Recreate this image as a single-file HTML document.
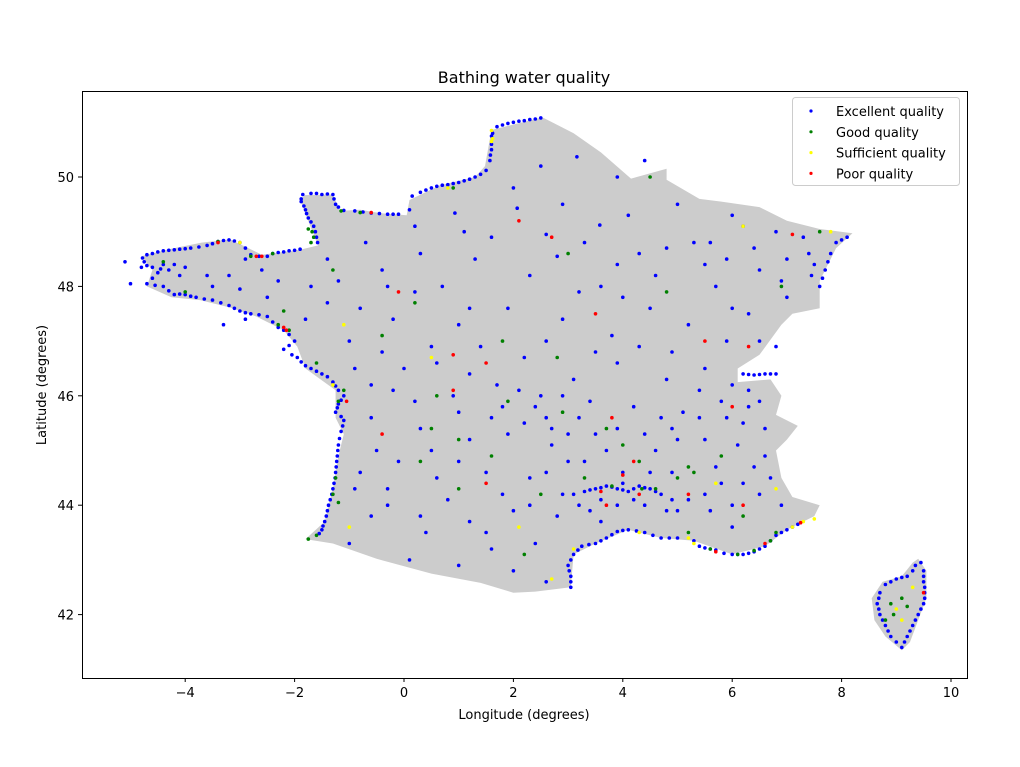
<!DOCTYPE html>
<html><head><meta charset="utf-8">
<style>
body{margin:0;background:#fff;}
svg text{font-family:"DejaVu Sans","Liberation Sans",sans-serif;fill:#000;}
</style></head>
<body>
<svg id="chart" width="1020" height="762" xmlns="http://www.w3.org/2000/svg">
<rect width="1020" height="762" fill="#fff"/>
<text x="524" y="83" font-size="16" text-anchor="middle">Bathing water quality</text>
<g id="plot"></g>
<rect x="82.5" y="91.5" width="885" height="587" fill="none" stroke="#000" stroke-width="1"/>
<g id="axes"></g>
<text x="524" y="719" font-size="13" text-anchor="middle">Longitude (degrees)</text>
<text x="46" y="385" font-size="13" text-anchor="middle" transform="rotate(-90 46 385)">Latitude (degrees)</text>
<g id="legend"></g>
</svg>
<script>
const xTicks=[-4,-2,0,2,4,6,8,10];
const yTicks=[42,44,46,48,50];
const categories=["Excellent quality","Good quality","Sufficient quality","Poor quality"];
const colors=["#0000ff","#008000","#ffff00","#ff0000"];
const mainland=[[2.49,51.08],[1.6,50.86],[1.48,50.2],[1.3,50.0],[0.66,49.85],[0.1,49.58],[0.05,49.3],[-0.44,49.34],[-0.8,49.4],[-1.17,49.38],[-1.3,49.68],[-1.81,49.67],[-1.9,49.58],[-1.72,49.12],[-1.57,48.75],[-1.9,48.67],[-2.6,48.58],[-3.18,48.86],[-3.7,48.8],[-4.3,48.68],[-4.8,48.55],[-4.6,48.3],[-4.7,48.0],[-4.25,47.8],[-3.73,47.75],[-3.2,47.62],[-2.7,47.45],[-2.2,47.2],[-1.95,46.9],[-1.8,46.5],[-1.25,46.1],[-1.25,45.6],[-1.1,45.3],[-1.2,44.9],[-1.3,44.3],[-1.45,43.7],[-1.8,43.38],[-1.3,43.3],[-0.5,43.02],[0.5,42.75],[1.4,42.58],[2.0,42.4],[2.4,42.42],[3.05,42.5],[3.1,43.1],[3.5,43.3],[4.1,43.55],[4.7,43.4],[5.3,43.35],[6.0,43.1],[6.6,43.25],[7.0,43.55],[7.5,43.8],[7.6,44.0],[7.1,44.15],[6.9,44.5],[6.8,45.0],[7.0,45.2],[7.2,45.45],[6.8,45.65],[6.9,46.0],[6.7,46.3],[6.1,46.25],[6.1,46.5],[6.5,46.75],[6.9,47.3],[7.1,47.5],[7.6,47.6],[7.6,48.1],[7.9,48.7],[8.2,48.97],[7.6,49.05],[7.0,49.2],[6.5,49.45],[5.8,49.55],[5.4,49.6],[4.8,49.95],[4.8,50.15],[4.15,49.97],[3.6,50.45],[3.1,50.8],[2.55,51.08]];
const corsica=[[9.4,43.02],[9.55,42.8],[9.55,42.3],[9.4,41.9],[9.25,41.5],[9.1,41.35],[8.8,41.6],[8.6,41.9],[8.55,42.3],[8.75,42.6],[9.1,42.7],[9.3,42.95]];
const excellent=[[2.5,51.08],[2.4,51.06],[2.3,51.05],[2.2,51.03],[2.1,51.02],[2.0,51.0],[1.9,50.98],[1.8,50.95],[1.7,50.92],[1.62,50.8],[1.6,50.75],[1.6,50.6],[1.6,50.5],[1.58,50.4],[1.57,50.3],[1.5,50.12],[1.4,50.05],[1.3,50.0],[1.2,49.96],[1.1,49.93],[1.0,49.9],[0.9,49.88],[0.8,49.86],[0.7,49.85],[0.6,49.83],[0.5,49.8],[0.4,49.76],[0.3,49.72],[0.15,49.65],[0.1,49.4],[-0.1,49.32],[-0.2,49.32],[-0.3,49.32],[-0.45,49.33],[-0.6,49.34],[-0.75,49.36],[-0.9,49.38],[-1.1,49.39],[-1.2,49.45],[-1.25,49.5],[-1.28,49.6],[-1.3,49.68],[-1.4,49.69],[-1.5,49.68],[-1.6,49.7],[-1.7,49.7],[-1.85,49.68],[-1.88,49.6],[-1.88,49.55],[-1.83,49.47],[-1.8,49.4],[-1.78,49.33],[-1.75,49.25],[-1.7,49.18],[-1.65,49.1],[-1.62,49.0],[-1.6,48.9],[-1.58,48.8],[-1.9,48.68],[-2.0,48.66],[-2.1,48.65],[-2.2,48.63],[-2.3,48.62],[-2.4,48.6],[-2.5,48.55],[-2.65,48.55],[-2.8,48.58],[-2.9,48.7],[-3.0,48.8],[-3.1,48.83],[-3.2,48.85],[-3.3,48.84],[-3.4,48.82],[-3.5,48.78],[-3.6,48.75],[-3.75,48.72],[-3.9,48.7],[-4.0,48.69],[-4.1,48.68],[-4.2,48.67],[-4.3,48.66],[-4.4,48.65],[-4.5,48.63],[-4.6,48.6],[-4.7,48.58],[-4.78,48.52],[-4.75,48.45],[-4.7,48.38],[-4.6,48.35],[-4.45,48.32],[-4.3,48.3],[-4.5,48.25],[-4.6,48.15],[-4.7,48.05],[-4.55,48.02],[-4.4,48.0],[-4.3,47.92],[-4.2,47.85],[-4.1,47.86],[-4.0,47.85],[-3.9,47.82],[-3.8,47.8],[-3.65,47.77],[-3.5,47.75],[-3.35,47.7],[-3.2,47.65],[-3.1,47.6],[-3.0,47.55],[-2.9,47.52],[-2.8,47.5],[-2.65,47.48],[-2.5,47.45],[-2.4,47.35],[-2.3,47.25],[-2.2,47.2],[-2.1,47.12],[-2.0,47.0],[-2.1,46.92],[-2.2,46.85],[-2.05,46.75],[-1.95,46.7],[-1.88,46.62],[-1.8,46.55],[-1.7,46.5],[-1.6,46.45],[-1.5,46.4],[-1.4,46.35],[-1.3,46.25],[-1.25,46.18],[-1.2,46.1],[-1.1,46.0],[-1.15,45.92],[-1.2,45.85],[-1.22,45.78],[-1.25,45.7],[-1.15,45.62],[-1.1,45.55],[-1.12,45.45],[-1.15,45.35],[-1.18,45.22],[-1.2,45.1],[-1.21,45.0],[-1.22,44.9],[-1.23,44.8],[-1.24,44.7],[-1.25,44.6],[-1.26,44.5],[-1.28,44.4],[-1.3,44.3],[-1.32,44.2],[-1.35,44.1],[-1.38,44.0],[-1.4,43.9],[-1.42,43.8],[-1.45,43.7],[-1.48,43.62],[-1.5,43.55],[-1.55,43.48],[-5.1,48.45],[-5.0,48.05],[-4.4,48.4],[-4.0,48.35],[-3.6,48.2],[-3.3,47.3],[-2.9,47.4],[-4.8,48.35],[-4.1,48.2],[-3.2,48.2],[-2.6,48.3],[-3.0,47.95],[3.05,42.5],[3.05,42.6],[3.05,42.7],[3.02,42.8],[3.0,42.9],[3.05,43.0],[3.1,43.1],[3.18,43.18],[3.25,43.25],[3.38,43.28],[3.5,43.3],[3.6,43.35],[3.7,43.4],[3.8,43.46],[3.9,43.52],[4.0,43.54],[4.1,43.55],[4.25,43.53],[4.4,43.5],[4.55,43.45],[4.7,43.4],[4.85,43.4],[5.0,43.4],[5.3,43.35],[5.4,43.25],[5.5,43.22],[5.6,43.2],[5.7,43.18],[5.85,43.12],[6.0,43.1],[6.1,43.1],[6.2,43.1],[6.3,43.12],[6.4,43.15],[6.5,43.2],[6.6,43.25],[6.7,43.35],[6.8,43.45],[6.9,43.5],[7.0,43.55],[7.1,43.6],[7.2,43.65],[3.1,44.2],[3.3,44.25],[3.4,44.28],[3.5,44.3],[3.6,44.32],[3.7,44.35],[3.8,44.33],[3.9,44.3],[4.0,44.28],[4.1,44.25],[4.2,44.3],[4.3,44.35],[4.4,44.32],[4.5,44.3],[4.6,44.25],[3.2,44.0],[3.9,44.0],[4.2,44.1],[3.4,43.9],[3.6,44.1],[4.0,44.4],[4.4,44.0],[4.7,44.2],[4.9,44.1],[5.0,43.9],[6.2,46.4],[6.3,46.39],[6.4,46.38],[6.5,46.39],[6.6,46.4],[6.7,46.4],[6.8,46.4],[7.6,48.0],[7.65,48.15],[7.7,48.3],[7.75,48.45],[7.8,48.6],[7.9,48.8],[8.0,48.85],[8.1,48.9],[7.5,48.4],[7.45,48.2],[9.45,42.95],[9.5,42.8],[9.5,42.7],[9.5,42.6],[9.52,42.5],[9.52,42.4],[9.52,42.3],[9.5,42.2],[9.45,42.1],[9.4,42.0],[9.35,41.9],[9.3,41.8],[9.25,41.7],[9.2,41.6],[9.15,41.5],[9.1,41.4],[9.0,41.5],[8.9,41.6],[8.85,41.7],[8.8,41.8],[8.75,41.9],[8.7,42.0],[8.68,42.1],[8.65,42.2],[8.68,42.3],[8.7,42.4],[8.8,42.55],[8.9,42.6],[9.0,42.65],[9.1,42.68],[9.2,42.7],[9.3,42.8],[9.35,42.9],[3.16,50.37],[3.58,49.12],[0.93,49.34],[2.07,49.43],[2.6,48.95],[2.8,48.55],[3.3,48.8],[4.1,49.3],[4.8,48.7],[5.3,48.8],[5.9,48.5],[6.5,48.3],[6.9,48.1],[6.2,49.1],[6.8,49.0],[4.6,48.2],[3.6,48.0],[2.3,48.2],[1.3,48.5],[0.3,48.6],[-0.4,48.3],[-1.2,48.1],[-0.8,47.6],[0.2,47.9],[1.0,47.3],[1.9,47.6],[2.9,47.4],[3.8,47.1],[4.5,47.6],[5.2,47.3],[5.9,47.0],[6.3,47.5],[6.8,46.9],[5.5,46.5],[4.8,46.3],[3.9,46.6],[3.1,46.3],[2.2,46.7],[1.4,46.9],[0.6,46.6],[-0.4,46.8],[-0.9,46.5],[-0.2,46.1],[0.9,46.0],[1.8,45.8],[2.6,45.6],[3.4,45.9],[4.2,45.8],[5.1,45.7],[5.8,45.9],[6.3,45.8],[6.6,45.4],[6.1,45.1],[5.5,45.2],[4.6,45.0],[3.7,45.0],[2.7,45.1],[1.9,45.3],[1.2,45.2],[0.3,45.4],[-0.5,45.0],[-0.8,44.6],[-0.3,44.3],[0.6,44.5],[1.5,44.6],[2.3,44.5],[3.0,44.8],[4.9,44.6],[5.8,44.4],[6.4,44.7],[6.5,44.2],[5.6,43.9],[4.8,43.9],[2.8,43.8],[2.0,43.9],[1.2,43.7],[0.4,43.5],[-0.6,43.8],[-1.0,43.3],[0.1,43.0],[1.0,42.9],[2.0,42.8],[2.6,42.6],[2.4,43.3],[1.6,43.2],[0.8,44.1],[-0.1,44.8],[0.5,46.9],[-0.2,47.4],[1.6,48.9],[2.5,50.2],[3.9,50.0],[4.4,50.3],[5.0,49.5],[5.7,48.0],[7.0,48.5],[6.0,47.6],[2.1,46.1],[1.2,46.4],[3.0,45.3],[4.0,44.6],[5.2,44.1],[6.9,44.0],[6.0,43.6],[3.6,43.7],[2.9,44.2],[1.8,44.2],[0.2,45.9],[-0.6,45.6],[2.2,45.5],[2.4,45.8],[2.5,46.0],[2.7,45.4],[1.6,45.6],[1.7,46.2],[2.9,46.0],[3.2,45.6],[3.5,45.3],[3.9,45.4],[4.4,45.3],[4.7,45.6],[5.4,45.6],[5.9,45.6],[6.2,45.5],[6.5,45.9],[6.0,46.2],[5.4,46.1],[4.9,46.8],[4.3,46.9],[3.5,46.8],[2.6,47.0],[1.2,47.6],[0.7,48.0],[-0.3,48.0],[-1.7,48.0],[-2.5,47.8],[-3.5,48.0],[-4.2,48.4],[-1.0,47.0],[-0.6,46.2],[0.0,46.5],[1.0,45.7],[0.5,45.0],[-0.3,44.0],[0.3,43.8],[1.5,43.5],[2.3,44.0],[2.6,44.6],[3.3,44.8],[5.0,45.2],[5.7,44.7],[6.2,44.4],[6.6,44.9],[6.3,46.1],[6.5,47.0],[7.0,47.8],[6.4,48.7],[5.5,48.4],[4.3,48.6],[3.9,48.4],[2.9,49.5],[2.0,49.8],[1.1,49.0],[0.2,49.1],[-0.7,48.8],[-1.4,48.5],[-2.3,48.1],[-2.9,48.5],[-1.8,47.4],[-1.4,47.7],[3.2,47.9],[4.0,47.8],[5.6,48.8],[6.0,49.3],[7.3,48.9],[7.4,48.6],[4.9,45.4],[4.5,44.6],[5.5,44.2],[6.0,44.0],[6.7,44.5],[1.0,44.8],[-0.9,44.3]];
const good=[[-1.7,48.8],[-1.68,49.0],[-2.2,47.55],[-2.4,48.6],[-4.4,48.45],[-1.1,46.1],[-1.2,44.05],[-1.75,43.38],[0.2,47.7],[1.0,45.2],[1.9,45.9],[2.5,44.2],[3.3,44.5],[4.3,44.8],[5.2,44.7],[5.6,43.2],[6.2,43.8],[6.8,43.5],[7.6,49.0],[6.9,48.0],[4.5,50.0],[0.9,49.8],[-1.3,48.3],[-0.4,47.1],[1.6,44.9],[2.2,43.1],[8.9,42.2],[9.1,42.3],[8.8,41.9],[-4.0,47.9],[3.0,48.6],[4.0,45.1],[0.3,44.8],[1.8,47.0],[2.9,45.7],[5.8,44.9],[-1.6,46.6],[4.8,47.9],[-1.65,48.9],[-1.75,49.05],[-2.3,47.3],[-2.1,47.2],[-1.2,45.9],[-1.25,44.5],[-1.3,44.2],[-1.6,43.45],[3.8,44.35],[4.35,44.3],[4.6,44.3],[5.0,44.5],[5.3,44.6],[6.4,43.17],[6.7,43.35],[0.5,45.4],[1.0,44.3],[2.8,46.7],[3.7,45.4],[0.6,46.0],[8.95,42.0],[9.2,42.15],[5.2,43.5],[6.1,43.1],[-0.8,49.35],[-1.15,49.38],[-3.4,48.82],[-2.8,48.55]];
const sufficient=[[1.6,50.65],[1.6,50.85],[1.62,50.7],[-1.3,46.2],[-1.0,43.6],[0.5,46.7],[2.1,43.6],[5.2,43.4],[7.3,43.7],[7.5,43.75],[7.1,43.6],[9.3,42.5],[9.0,42.1],[9.1,41.9],[-1.1,47.3],[3.1,43.2],[6.8,44.3],[4.3,43.5],[0.8,49.8],[6.2,49.1],[7.8,49.0],[2.7,42.65],[5.3,43.3],[5.7,44.4],[-3.0,48.8]];
const poor=[[-2.7,48.55],[-2.6,48.55],[-2.2,47.25],[-2.15,47.2],[-1.05,45.9],[-0.6,49.35],[2.1,49.2],[2.7,48.9],[3.5,47.5],[5.5,47.0],[6.3,46.9],[1.5,46.6],[0.9,46.1],[3.8,45.6],[4.2,44.8],[3.7,44.0],[5.7,43.15],[7.1,48.95],[9.5,42.4],[1.5,44.4],[6.6,43.3],[-0.4,45.3],[-0.1,47.9],[4.0,44.55],[4.3,44.2],[6.2,44.0],[3.6,44.25],[5.2,44.2],[6.0,45.8],[-3.4,48.8],[0.9,46.75],[7.25,43.68]];
const series=[excellent,good,sufficient,poor];

const NS="http://www.w3.org/2000/svg";
const X0=82,X1=967,Y0=91,Y1=678;
function xs(v){return 404+(v)*54.7;}
function ys(v){return 177-(v-50)*54.7;}
const plot=document.getElementById('plot');
function poly(arr,name){
  const p=document.createElementNS(NS,'polygon');
  p.setAttribute('points',arr.map(d=>xs(d[0]).toFixed(1)+','+ys(d[1]).toFixed(1)).join(' '));
  p.setAttribute('fill','#cccccc');
  
  
  plot.appendChild(p);
}
poly(mainland,'france-mainland');
poly(corsica,'corsica');
series.forEach((s,i)=>{
  const g=document.createElementNS(NS,'g');
  
  
  s.forEach(d=>{
    const c=document.createElementNS(NS,'circle');
    c.setAttribute('cx',xs(d[0]).toFixed(1));c.setAttribute('cy',ys(d[1]).toFixed(1));
    c.setAttribute('r','1.8');c.setAttribute('fill',colors[i]);
    
    
    g.appendChild(c);
  });
  plot.appendChild(g);
});
const axes=document.getElementById('axes');
xTicks.forEach(t=>{
  const x=xs(t);
  const l=document.createElementNS(NS,'line');
  l.setAttribute('x1',x);l.setAttribute('x2',x);l.setAttribute('y1',Y1);l.setAttribute('y2',Y1+4);l.setAttribute('stroke','#000');
  
  
  axes.appendChild(l);
  const tx=document.createElementNS(NS,'text');
  tx.setAttribute('x',x);tx.setAttribute('y',Y1+19);tx.setAttribute('font-size','13');tx.setAttribute('text-anchor','middle');
  tx.textContent=(t<0?'\u2212'+(-t):t);
  
  
  axes.appendChild(tx);
});
yTicks.forEach(t=>{
  const y=ys(t);
  const l=document.createElementNS(NS,'line');
  l.setAttribute('x1',X0-4);l.setAttribute('x2',X0);l.setAttribute('y1',y);l.setAttribute('y2',y);l.setAttribute('stroke','#000');
  
  
  axes.appendChild(l);
  const tx=document.createElementNS(NS,'text');
  tx.setAttribute('x',X0-8);tx.setAttribute('y',y+5);tx.setAttribute('font-size','13');tx.setAttribute('text-anchor','end');
  tx.textContent=t;
  
  
  axes.appendChild(tx);
});
const lg=document.getElementById('legend');
const box=document.createElementNS(NS,'rect');
box.setAttribute('x','792.5');box.setAttribute('y','97.5');box.setAttribute('width','167');box.setAttribute('height','88');box.setAttribute('rx','3');
box.setAttribute('fill','#fff');box.setAttribute('fill-opacity','0.8');box.setAttribute('stroke','#ccc');


lg.appendChild(box);
categories.forEach((c,i)=>{
  const y=111+i*20.8;
  const m=document.createElementNS(NS,'circle');
  m.setAttribute('cx','811');m.setAttribute('cy',y);m.setAttribute('r','1.6');m.setAttribute('fill',colors[i]);
  
  
  lg.appendChild(m);
  const t=document.createElementNS(NS,'text');
  t.setAttribute('x','836');t.setAttribute('y',y+5);t.setAttribute('font-size','13');
  t.textContent=c;
  
  
  lg.appendChild(t);
});
</script>
</body></html>
